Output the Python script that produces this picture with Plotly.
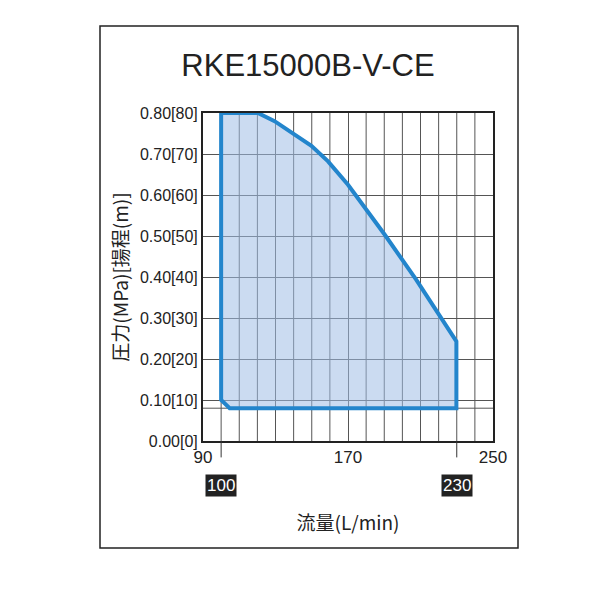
import plotly.graph_objects as go

flow = [100, 120.3, 129.5, 149.8, 159, 170, 190.3, 207.7, 229.8, 229.8, 104.7, 100, 100]
pressure = [0.80, 0.80, 0.78, 0.72, 0.682, 0.625, 0.503, 0.393, 0.243, 0.08, 0.08, 0.10, 0.80]
ytick_vals = [0, 0.1, 0.2, 0.3, 0.4, 0.5, 0.6, 0.7, 0.8]
ytick_text = ["0.00[0]", "0.10[10]", "0.20[20]", "0.30[30]", "0.40[40]", "0.50[50]", "0.60[60]", "0.70[70]", "0.80[80]"]
xtick_vals = [90, 170, 250]
box_vals = [100, 230]

F = "Liberation Sans, Arial, sans-serif"
fig = go.Figure()
fig.add_trace(go.Scatter(x=flow, y=pressure, mode="lines", fill="toself",
                         fillcolor="rgba(160,190,230,0.55)",
                         line=dict(color="#2385cc", width=4), hoverinfo="skip"))
fig.add_shape(type="line", xref="paper", x0=0, x1=1, y0=0.08, y1=0.08,
              line=dict(color="#555", width=1), layer="below")
for b in box_vals:
    fig.add_shape(type="line", x0=b, x1=b, yref="paper", y0=0, y1=-0.05,
                  line=dict(color="#333", width=1))
    fig.add_annotation(x=b, yref="paper", y=-0.137, text=str(b), showarrow=False,
                       font=dict(family=F, size=17, color="white"),
                       bgcolor="#222", borderpad=1, xanchor="center", yanchor="middle")
for v in range(100, 250, 10):
    if v not in xtick_vals:
        fig.add_shape(type="line", x0=v, x1=v, yref="paper", y0=0, y1=1,
                      line=dict(color="#555", width=1), layer="below")
fig.add_shape(type="rect", xref="paper", yref="paper",
              x0=-103/290, x1=315/290, y0=-107/328, y1=415/328,
              line=dict(color="#222", width=1.5))
fig.update_layout(
    width=600, height=600, plot_bgcolor="white", paper_bgcolor="white",
    margin=dict(l=195, r=115, t=105, b=167), showlegend=False,
    title=dict(text="RKE15000B-V-CE", x=0.5, xanchor="center", y=0.905, yanchor="middle",
               font=dict(family=F, size=31, color="#222")),
    xaxis=dict(range=[90, 250], tickvals=xtick_vals, showgrid=True, automargin=False,
               gridcolor="#555", gridwidth=1, showline=True, linecolor="#222",
               linewidth=2, mirror=True, ticks="", ticklen=0,
               tickfont=dict(family=F, size=17, color="#222"),
               title=dict(text="流量(L/min)", font=dict(family="Noto Sans CJK JP", size=19, color="#222"), standoff=50)),
    yaxis=dict(range=[0, 0.8], tickvals=ytick_vals, ticktext=ytick_text, showgrid=True, automargin=False,
               gridcolor="#555", gridwidth=1, showline=True, linecolor="#222",
               linewidth=2, mirror=True, zeroline=False,
               tickfont=dict(family=F, size=16, color="#222"),
               title=dict(text="圧力(MPa)[揚程(m)]", font=dict(family="Noto Sans CJK JP", size=19, color="#222"), standoff=6)),
)
fig.write_html("out.html")
